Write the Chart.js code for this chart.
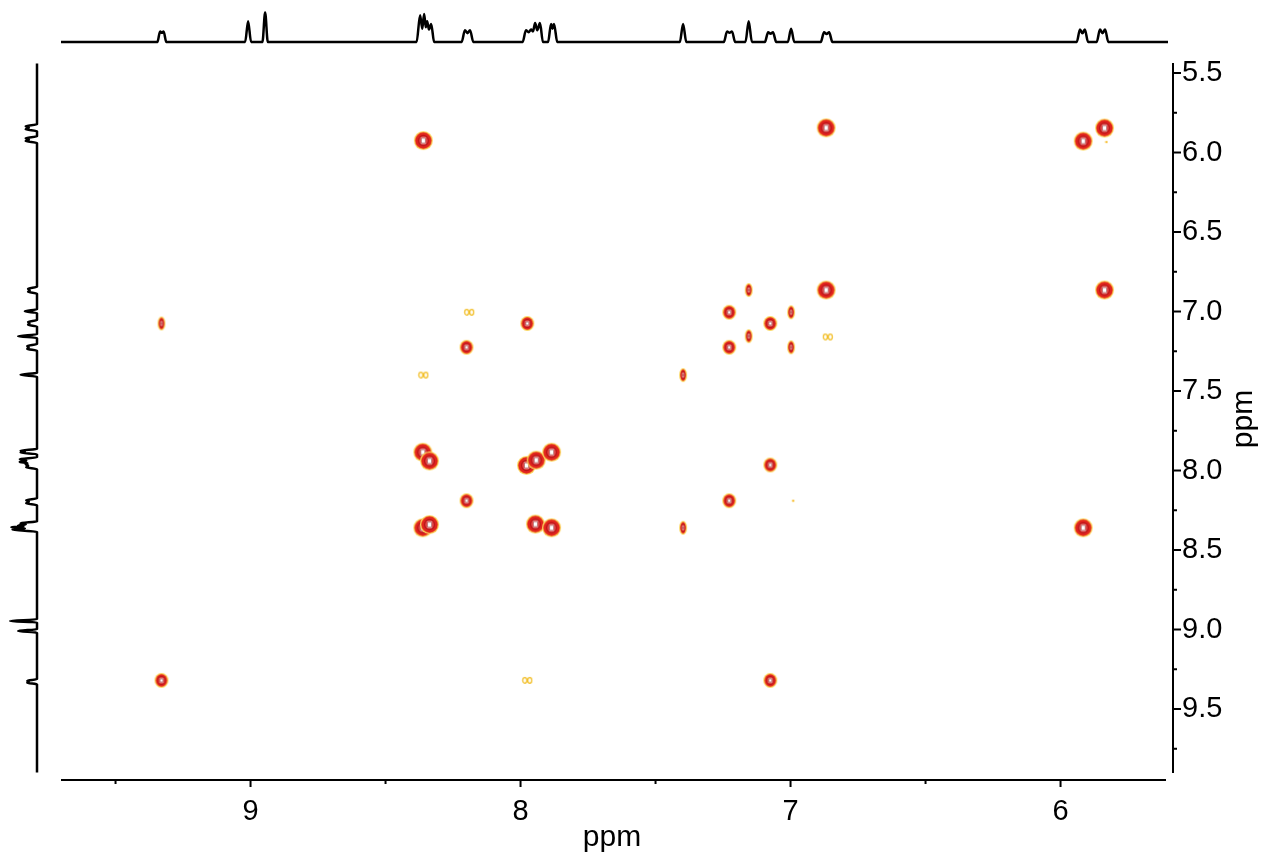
<!DOCTYPE html>
<html><head><meta charset="utf-8">
<script src="https://cdn.jsdelivr.net/npm/chart.js@4.4.1/dist/chart.umd.min.js"></script>
<style>
html,body{margin:0;padding:0;background:#fff;}
#wrap{position:relative;width:1262px;height:858px;overflow:hidden;background:#fff}
canvas{position:absolute;left:0;top:0}
</style></head><body>
<div id="wrap">
<canvas id="main" width="1262" height="858"></canvas>
<canvas id="top" width="1262" height="60"></canvas>
<canvas id="left" width="62" height="858"></canvas>
</div>
<script>
// ---------- axis ranges & ticks ----------
const X_MIN = 5.602, X_MAX = 9.702;        // F2 (ppm), reversed
const Y_MIN = 5.437, Y_MAX = 9.9465;       // F1 (ppm), reversed
const X_TICKS = [9, 8, 7, 6];
const X_MINOR = [9.5, 8.5, 7.5, 6.5];
const Y_TICKS = [5.5, 6.0, 6.5, 7.0, 7.5, 8.0, 8.5, 9.0, 9.5];
const Y_MINOR = [5.75, 6.25, 6.75, 7.25, 7.75, 8.25, 8.75, 9.25, 9.75];
const AXIS_TITLE = 'ppm';

// ---------- 1D projection spectrum (ppm, relative intensity) ----------
const SPEC_PPM = [9.90, 9.345, 9.335, 9.3285, 9.322, 9.312,
  9.020, 9.009, 8.998, 8.956, 8.946, 8.936,
  8.385, 8.372, 8.364, 8.357, 8.351, 8.346, 8.339, 8.331, 8.320,
  8.218, 8.206, 8.1965, 8.187, 8.175,
  7.992, 7.980, 7.970, 7.961, 7.954, 7.946, 7.938, 7.928, 7.917,
  7.898, 7.887, 7.8815, 7.876, 7.864,
  7.410, 7.398, 7.386,
  7.247, 7.235, 7.226, 7.217, 7.205,
  7.167, 7.155, 7.143,
  7.095, 7.083, 7.074, 7.065, 7.053,
  7.010, 6.998, 6.986,
  6.888, 6.876, 6.8665, 6.857, 6.845,
  5.940, 5.928, 5.919, 5.910, 5.898,
  5.866, 5.854, 5.8445, 5.835, 5.823, 5.44];
const SPEC_INT = [0, 0, 36, 31, 36, 0,
  0, 70, 0, 0, 100, 0,
  0, 91, 45, 95, 50, 70, 42, 61, 0,
  0, 40, 30, 40, 0,
  0, 40, 33, 42, 36, 64, 40, 64, 0,
  0, 61, 45, 61, 0,
  0, 61, 0,
  0, 36, 31, 36, 0,
  0, 70, 0,
  0, 33, 28, 33, 0,
  0, 45, 0,
  0, 33, 27, 33, 0,
  0, 42, 30, 42, 0,
  0, 42, 30, 42, 0, 0];

// ---------- COSY cross/diagonal peaks ----------
const CROSS_F2 = [9.33, 9.33, 8.36, 8.362, 8.337, 8.362, 8.337, 8.36, 8.19, 8.20, 8.20,
  7.975, 7.978, 7.942, 7.945, 7.885, 7.885, 7.975, 7.398, 7.398,
  7.227, 7.227, 7.227, 7.155, 7.155, 7.075, 7.075, 7.075, 6.998, 6.998,
  6.868, 6.868, 6.862, 5.916, 5.837, 5.837, 5.916, 5.83, 6.99];
const CROSS_F1 = [7.075, 9.32, 5.925, 7.885, 7.94, 8.36, 8.34, 7.40, 7.005, 7.225, 8.19,
  7.075, 7.968, 7.935, 8.337, 7.885, 8.36, 9.32, 7.40, 8.36,
  7.005, 7.225, 8.19, 6.865, 7.155, 7.075, 7.965, 9.32, 7.005, 7.225,
  5.845, 6.865, 7.16, 5.928, 5.846, 6.865, 8.36, 5.934, 8.19];
// contour size class: 0 weak, 1 small, 2 medium, 3 strong, 4 trace
const CROSS_LEVEL = [1, 2, 3, 3, 3, 3, 3, 0, 0, 2, 2,
  2, 3, 3, 3, 3, 3, 0, 1, 1,
  2, 2, 2, 1, 1, 2, 2, 2, 1, 1,
  3, 3, 0, 3, 3, 3, 3, 4, 4];

const FONT = '"Liberation Sans", Arial, Helvetica, sans-serif';

// ---------- contour marker images ----------
function ell(ctx, cx, cy, rx, ry, col) {
  ctx.beginPath(); ctx.ellipse(cx, cy, rx, ry, 0, 0, Math.PI * 2);
  ctx.fillStyle = col; ctx.fill();
}
function makeBlob(rx, ry, inner) {
  const c = document.createElement('canvas');
  c.width = Math.ceil(rx * 2) + 4; c.height = Math.ceil(ry * 2) + 4;
  const g = c.getContext('2d'); const cx = c.width / 2, cy = c.height / 2;
  ell(g, cx, cy, rx, ry, '#fbd865');
  ell(g, cx, cy, rx - 1, ry - 1, '#ef7d2c');
  ell(g, cx, cy, rx - 1.6, ry - 1.6, '#e2241e');
  ell(g, cx, cy, rx * 0.58, ry * 0.6, '#b9161a');
  ell(g, cx, cy, rx * 0.45, ry * 0.47, '#e04848');
  g.fillStyle = '#ffffff';
  g.fillRect(cx - inner[0] / 2, cy - inner[1] / 2, inner[0], inner[1]);
  g.strokeStyle = 'rgba(150,30,30,0.7)'; g.lineWidth = 0.8;
  g.strokeRect(cx - inner[0] / 2 + 0.5, cy - inner[1] / 2 + 0.5, inner[0] - 1, inner[1] - 1);
  return c;
}
function makeWeak() {
  const c = document.createElement('canvas'); c.width = 12; c.height = 9;
  const g = c.getContext('2d'); g.strokeStyle = '#f2bf2a'; g.lineWidth = 1.3;
  [3.5, 8.5].forEach(x => { g.beginPath(); g.ellipse(x, 4.5, 2, 2.8, 0, 0, Math.PI * 2); g.stroke(); });
  return c;
}
function makeDot() {
  const c = document.createElement('canvas'); c.width = 4; c.height = 4;
  const g = c.getContext('2d'); ell(g, 2, 2, 1.3, 1.3, '#f7c64a'); return c;
}
const STYLES = [makeWeak(), makeBlob(4, 7, [1, 4]), makeBlob(7, 7.5, [4, 4]), makeBlob(9.5, 9.5, [5, 6]), makeDot()];

const peakSets = [4, 0, 1, 2, 3].map(level => ({
  data: CROSS_F2.map((x, i) => ({ x, y: CROSS_F1[i], l: CROSS_LEVEL[i] })).filter(p => p.l === level),
  pointStyle: STYLES[level], pointRadius: 10, showLine: false
}));

// ---------- axes drawing plugin ----------
const nmrAxes = {
  id: 'nmrAxes',
  afterDraw(chart) {
    const { ctx, chartArea: a, scales: { x, y } } = chart;
    ctx.save();
    ctx.strokeStyle = '#000'; ctx.lineWidth = 2; ctx.lineCap = 'butt';
    const seg = (x1, y1, x2, y2) => { ctx.beginPath(); ctx.moveTo(x1, y1); ctx.lineTo(x2, y2); ctx.stroke(); };
    const yb = a.bottom;
    seg(a.left, yb, a.right - 2, yb);
    X_TICKS.forEach(v => { const p = x.getPixelForValue(v); seg(p, yb, p, yb + 7); });
    X_MINOR.forEach(v => { const p = x.getPixelForValue(v); seg(p, yb, p, yb + 4); });
    const xr = a.right + 5;
    seg(xr, a.top, xr, a.bottom - 7);
    Y_TICKS.forEach(v => { const p = y.getPixelForValue(v); seg(xr, p, xr + 8, p); });
    Y_MINOR.forEach(v => { const p = y.getPixelForValue(v); seg(xr, p, xr + 4, p); });
    ctx.fillStyle = '#000';
    ctx.font = '30px ' + FONT;
    ctx.textAlign = 'center'; ctx.textBaseline = 'alphabetic';
    ctx.fillText(AXIS_TITLE, 612, 846);
    ctx.translate(1252, 419); ctx.rotate(-Math.PI / 2);
    ctx.fillText(AXIS_TITLE, 0, 0);
    ctx.restore();
  }
};

Chart.defaults.font.family = FONT;

new Chart(document.getElementById('main'), {
  type: 'scatter',
  data: { datasets: peakSets },
  options: {
    responsive: false, animation: false, events: [],
    layout: { padding: { left: 61, top: 63, right: 0, bottom: 0 } },
    plugins: { legend: { display: false }, tooltip: { enabled: false } },
    scales: {
      x: {
        type: 'linear', position: 'bottom', min: X_MIN, max: X_MAX, reverse: true,
        afterFit(s) { s.height = 78; },
        afterBuildTicks(s) { s.ticks = X_TICKS.map(v => ({ value: v })); },
        ticks: { color: '#000', font: { size: 29, family: FONT }, padding: 15, maxRotation: 0, autoSkip: false, callback: v => String(v) },
        grid: { display: false, drawTicks: false }, border: { display: false }
      },
      y: {
        type: 'linear', position: 'right', min: Y_MIN, max: Y_MAX, reverse: true,
        afterFit(s) { s.width = 94; },
        afterBuildTicks(s) { s.ticks = Y_TICKS.map(v => ({ value: v })); },
        ticks: { color: '#000', font: { size: 29, family: FONT }, padding: 14, autoSkip: false, callback: v => Number(v).toFixed(1) },
        grid: { display: false, drawTicks: false }, border: { display: false }
      }
    }
  },
  plugins: [nmrAxes]
});

// ---------- top projection ----------
new Chart(document.getElementById('top'), {
  type: 'scatter',
  data: { datasets: [{
    data: SPEC_PPM.map((p, i) => ({ x: p, y: SPEC_INT[i] })),
    showLine: true, borderColor: '#000', borderWidth: 2.5, pointRadius: 0,
    cubicInterpolationMode: 'monotone', clip: { left: 0, right: 0, top: 10, bottom: 10 }
  }] },
  options: {
    responsive: false, animation: false, events: [],
    layout: { padding: { left: 61, right: 94, top: 6, bottom: 18 } },
    plugins: { legend: { display: false }, tooltip: { enabled: false } },
    scales: {
      x: { type: 'linear', display: false, min: X_MIN, max: X_MAX, reverse: true },
      y: { type: 'linear', display: false, min: 0, max: 122 }
    }
  }
});

// ---------- left projection ----------
new Chart(document.getElementById('left'), {
  type: 'scatter',
  data: { datasets: [{
    data: SPEC_PPM.map((p, i) => ({ x: SPEC_INT[i], y: p })).reverse(),
    showLine: true, borderColor: '#000', borderWidth: 2.5, pointRadius: 0,
    cubicInterpolationMode: 'monotone', clip: { left: 10, right: 10, top: 0, bottom: 0 }
  }] },
  options: {
    indexAxis: 'y',
    responsive: false, animation: false, events: [],
    layout: { padding: { left: 2, right: 25, top: 63, bottom: 78 } },
    plugins: { legend: { display: false }, tooltip: { enabled: false } },
    scales: {
      x: { type: 'linear', display: false, min: 0, max: 130, reverse: true },
      y: { type: 'linear', display: false, min: Y_MIN, max: Y_MAX, reverse: true }
    }
  }
});
</script>
</body></html>
